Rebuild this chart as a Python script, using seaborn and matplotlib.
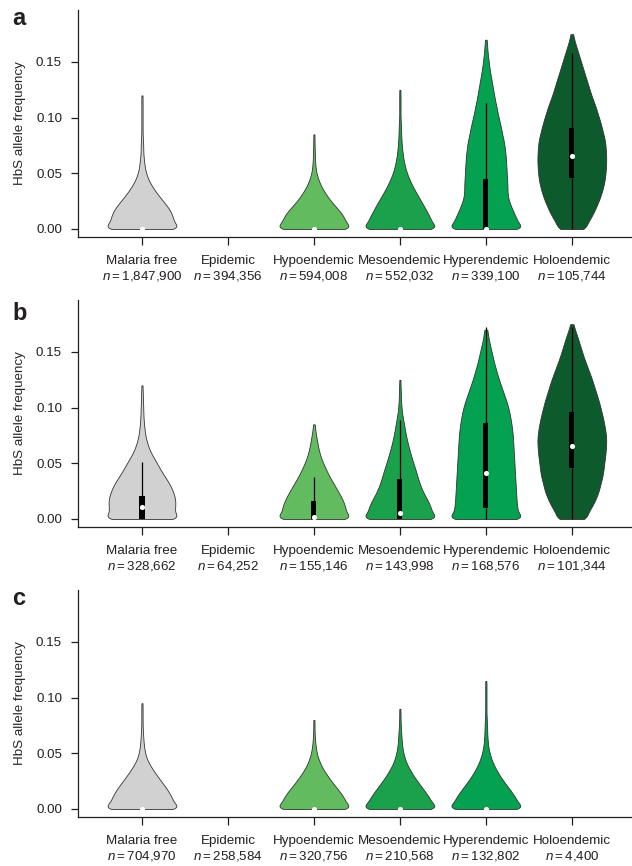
import numpy as np
import pandas as pd
import matplotlib
matplotlib.use("Agg")
import matplotlib.pyplot as plt
import seaborn as sns

# --- data ---------------------------------------------------------------------
zones = ["Malaria free", "Epidemic", "Hypoendemic", "Mesoendemic",
         "Hyperendemic", "Holoendemic"]
zone_colors = ["#d1d1d1", "#b0b0b0", "#63bb5f", "#1ba14b", "#04a150", "#0d5a2c"]

n_a = ["1,847,900", "394,356", "594,008", "552,032", "339,100", "105,744"]
n_b = ["328,662", "64,252", "155,146", "143,998", "168,576", "101,344"]
n_c = ["704,970", "258,584", "320,756", "210,568", "132,802", "4,400"]

# allele-frequency bins (0.005 wide) used for the violin profiles
freq_bins = np.round(np.arange(0, 0.1801, 0.005), 3)

# relative number of pixels per bin, starting at 0
a_profiles = {
    "Malaria free": [129, 100, 97, 91, 80, 66, 52, 39, 28, 19, 13, 9, 7, 5, 4, 4, 3,
                     2, 2, 2, 2, 2, 2, 2, 2],
    "Hypoendemic": [129, 100, 95, 84, 68, 53, 40, 29, 20, 13, 8, 5, 4, 3, 3, 2, 2, 2],
    "Mesoendemic": [129, 100, 95, 85, 76, 66, 56, 46, 37, 29, 22, 17, 13, 10, 8, 6, 5,
                    4, 4, 3, 2, 2, 2, 2, 2, 2],
    "Hyperendemic": [129, 100, 95, 86, 79, 72, 68, 67, 67, 66, 65, 64, 63, 62, 60, 58,
                     55, 51, 48, 44, 40, 36, 33, 29, 26, 23, 20, 17, 14, 11, 9, 7, 5,
                     4, 3],
    "Holoendemic": [41, 45, 55, 64, 71, 78, 84, 89, 93, 96, 98, 99, 100, 100, 99, 98,
                    96, 92, 88, 84, 79, 74, 69, 63, 57, 52, 47, 42, 37, 32, 27, 22, 17,
                    12, 7, 4],
}
b_profiles = {
    "Malaria free": [122, 96, 99, 100, 98, 92, 85, 75, 64, 54, 45, 35, 26, 19, 14, 10,
                     8, 6, 5, 4, 4, 3, 3, 2, 2],
    "Hypoendemic": [129, 100, 99, 93, 85, 75, 65, 55, 45, 37, 29, 22, 17, 13, 10, 7, 4, 3],
    "Mesoendemic": [129, 100, 97, 90, 80, 71, 64, 58, 53, 48, 42, 37, 32, 27, 23, 19,
                    16, 13, 10, 7, 5, 4, 3, 3, 2, 2],
    "Hyperendemic": [129, 100, 98, 96, 95, 94, 93, 92, 91, 90, 89, 88, 87, 86, 85, 84,
                     82, 80, 77, 74, 70, 65, 59, 53, 47, 41, 36, 31, 26, 22, 18, 14,
                     10, 7, 5],
    "Holoendemic": [44, 46, 56, 65, 72, 78, 82, 86, 90, 92, 94, 96, 98, 99, 100, 99, 97,
                    94, 91, 87, 83, 79, 74, 69, 64, 59, 53, 47, 41, 35, 30, 25, 20, 15,
                    9, 5],
}
c_profiles = {
    "Malaria free": [131, 100, 94, 85, 73, 60, 47, 35, 24, 15, 10, 7, 5, 4, 3, 2, 2, 2,
                     2, 2],
    "Hypoendemic": [129, 100, 94, 82, 68, 54, 42, 30, 21, 14, 9, 6, 4, 3, 2, 2, 2],
    "Mesoendemic": [129, 100, 92, 80, 67, 54, 42, 32, 22, 16, 11, 8, 6, 5, 4, 3, 2, 2, 2],
    "Hyperendemic": [129, 100, 93, 81, 68, 55, 43, 33, 24, 17, 12, 8, 6, 5, 4, 4, 3, 2,
                     2, 2, 2, 2, 2, 2],
}

# lower whisker, q1, median, q3, upper whisker
a_box = {
    "Malaria free": [0, 0, 0, 0, 0],
    "Hypoendemic": [0, 0, 0, 0, 0],
    "Mesoendemic": [0, 0, 0, 0, 0],
    "Hyperendemic": [0, 0, 0, 0.045, 0.113],
    "Holoendemic": [0, 0.046, 0.066, 0.091, 0.158],
}
b_box = {
    "Malaria free": [0, 0, 0.011, 0.021, 0.051],
    "Hypoendemic": [0, 0, 0.002, 0.016, 0.038],
    "Mesoendemic": [0, 0, 0.0057, 0.0356, 0.089],
    "Hyperendemic": [0, 0.0102, 0.041, 0.086, 0.172],
    "Holoendemic": [0, 0.0455, 0.066, 0.096, 0.172],
}
c_box = {
    "Malaria free": [0, 0, 0, 0, 0],
    "Hypoendemic": [0, 0, 0, 0, 0],
    "Mesoendemic": [0, 0, 0, 0, 0],
    "Hyperendemic": [0, 0, 0, 0, 0],
}


def long_frame(profiles):
    parts = []
    for zone, counts in profiles.items():
        vals = np.repeat(freq_bins[:len(counts)], counts)
        parts.append(pd.DataFrame({"zone": zone, "freq": vals}))
    return pd.concat(parts, ignore_index=True)


def box_frame(boxes):
    rows = [(zone, v) for zone, vals in boxes.items() for v in vals]
    return pd.DataFrame(rows, columns=["zone", "freq"])


def fixed_bw(kde):
    # same kernel width in data units for every violin
    return 0.0035 / np.std(kde.dataset, ddof=1)


sns.set_style("ticks")
plt.rcParams["font.family"] = ["Liberation Sans", "DejaVu Sans"]
plt.rcParams["mathtext.fontset"] = "custom"
plt.rcParams["mathtext.rm"] = "Liberation Sans"
plt.rcParams["mathtext.it"] = "Liberation Sans:italic"
plt.rcParams["text.color"] = "#231f20"
plt.rcParams["xtick.color"] = "#231f20"
plt.rcParams["ytick.color"] = "#231f20"

palette = dict(zip(zones, zone_colors))

fig = plt.figure(figsize=(6.32, 8.66), dpi=100)
W, H = 632, 866
panels = [
    ("a", a_profiles, a_box, n_a, 10, 237, 25),
    ("b", b_profiles, b_box, n_b, 300, 527, 320),
    ("c", c_profiles, c_box, n_c, 590, 817, 605),
]

for letter, profiles, boxes, counts, top_px, bot_px, base_px in panels:
    ax = fig.add_axes([78 / W, 1 - bot_px / H, 554 / W, (bot_px - top_px) / H])

    sns.violinplot(data=long_frame(profiles), x="zone", y="freq", hue="zone",
                   order=zones, hue_order=zones, palette=palette, saturation=1,
                   inner=None, cut=0, density_norm="width", width=0.8,
                   bw_method=fixed_bw, gridsize=400, linewidth=0.6,
                   linecolor="#333333", legend=False, ax=ax)

    bdf = box_frame(boxes)
    sns.boxplot(data=bdf, x="zone", y="freq", order=zones, width=0.06,
                whis=(0, 100), showcaps=False, showfliers=False, color="black",
                linecolor="black", linewidth=0.9, saturation=1,
                boxprops={"linewidth": 0}, medianprops={"linewidth": 0}, ax=ax)
    sns.pointplot(data=bdf, x="zone", y="freq", order=zones, estimator="median",
                  errorbar=None, color="white", marker="o", markersize=3.7,
                  markeredgewidth=0, linestyle="none", zorder=6, ax=ax)

    ax.set_xlim(-0.744, 5.70)
    ax.set_ylim(-0.0072, 0.1967)
    ax.set_yticks([0, 0.05, 0.10, 0.15])
    ax.set_yticklabels([f"{v:.2f}" for v in [0, 0.05, 0.10, 0.15]])
    ax.set_xticks(range(len(zones)))
    ax.set_xticklabels([f"{z}\n$n=${n}" for z, n in zip(zones, counts)])
    ax.set_xlabel("")
    ax.set_ylabel("HbS allele frequency", fontsize=9.6)
    ax.yaxis.set_label_coords(-0.093, 0.5)

    ax.tick_params(axis="x", length=5.5, width=0.9, pad=7.5, labelsize=9.6)
    ax.tick_params(axis="y", length=5, width=0.9, pad=6.5, labelsize=9.6)
    for side in ["top", "right"]:
        ax.spines[side].set_visible(False)
    for side in ["left", "bottom"]:
        ax.spines[side].set_linewidth(0.9)
        ax.spines[side].set_color("#231f20")

    fig.text(12 / W, 1 - base_px / H, letter, fontsize=17, fontweight="bold",
             ha="left", va="baseline")

fig.savefig("out.png", dpi=100)
